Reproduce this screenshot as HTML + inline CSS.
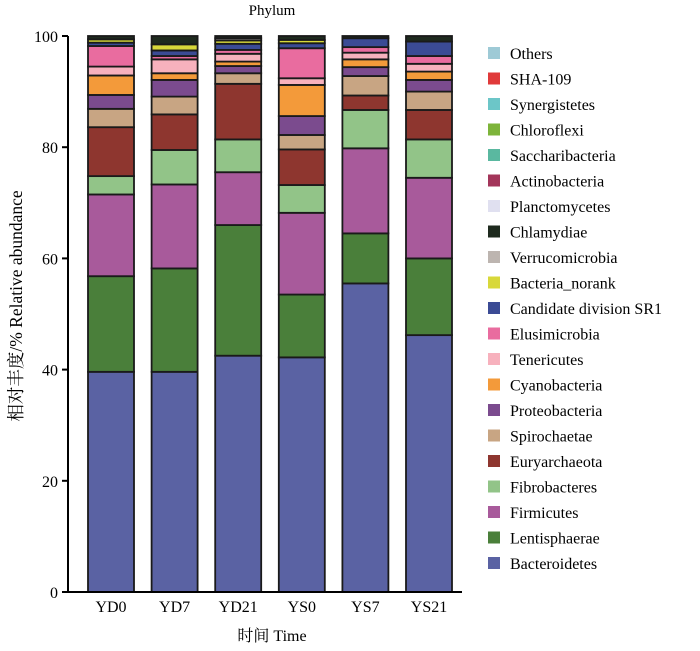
<!DOCTYPE html>
<html><head><meta charset="utf-8"><style>
body{margin:0;background:#fff;}
svg text{font-family:"Liberation Serif","Noto Serif CJK SC",serif;fill:#000;}
</style></head><body>
<svg id="chart" width="700" height="646" xmlns="http://www.w3.org/2000/svg">
<text x="272" y="15" font-size="15" text-anchor="middle">Phylum</text>
<g id="bars"></g>
<g id="axes"></g>
<g id="legend"></g>
<text x="272" y="641" font-size="16" text-anchor="middle">时间 Time</text>
<text transform="translate(22,306) rotate(-90)" font-size="17.5" text-anchor="middle">相对丰度/% Relative abundance</text>
</svg>
<script>
const categories=["YD0","YD7","YD21","YS0","YS7","YS21"];
const seriesNames=["Bacteroidetes","Lentisphaerae","Firmicutes","Fibrobacteres","Euryarchaeota","Spirochaetae","Proteobacteria","Cyanobacteria","Tenericutes","Elusimicrobia","Candidate division SR1","Bacteria_norank","Verrucomicrobia","Chlamydiae","Planctomycetes","Actinobacteria","Saccharibacteria","Chloroflexi","Synergistetes","SHA-109","Others"];
const seriesColors=["#5a62a3","#4a7f3a","#a85a9b","#92c488","#8e362f","#c8a583","#7b4b8e","#f39a3a","#f7b1bd","#e96c9f","#3b4b95","#d8d83a","#bdb5b0","#1e2a1e","#e0e0f0","#a3355a","#5ab8a0","#7db43a","#6cc6c8","#e03a3a","#9ecad6"];
const valsYD0=[39.6,17.2,14.7,3.3,8.8,3.3,2.5,3.5,1.6,3.7,0.6,0.6,0,0.6,0,0,0,0,0,0,0];
const valsYD7=[39.6,18.6,15.1,6.2,6.4,3.2,3.0,1.2,2.5,0.6,1.0,1.1,0,1.5,0,0,0,0,0,0,0];
const valsYD21=[42.5,23.5,9.5,5.9,10.0,1.9,1.3,0.8,1.4,0.7,1.1,0.6,0.4,0.4,0,0,0,0,0,0,0];
const valsYS0=[42.2,11.3,14.7,5.0,6.4,2.6,3.4,5.6,1.2,5.4,0.9,0.6,0,0.7,0,0,0,0,0,0,0];
const valsYS7=[55.5,9.0,15.3,6.9,2.6,3.5,1.6,1.4,1.2,1.0,1.6,0,0,0.4,0,0,0,0,0,0,0];
const valsYS21=[46.2,13.8,14.5,6.9,5.3,3.3,2.1,1.5,1.4,1.4,2.6,0,0,1.0,0,0,0,0,0,0,0];
const allVals=[valsYD0,valsYD7,valsYD21,valsYS0,valsYS7,valsYS21];
const yTicks=[0,20,40,60,80,100];
const NS="http://www.w3.org/2000/svg";
const x0=68,y0=592,yTop=36,barW=46,step=63.6,first=88;
function yScale(v){return y0-(v/100)*(y0-yTop);}
function xScale(i){return first+i*step;}
function mk(t,a,p){const e=document.createElementNS(NS,t);for(const k in a)e.setAttribute(k,a[k]);p.appendChild(e);return e;}
const bars=document.getElementById('bars');
categories.forEach((c,i)=>{
  let cum=0;const vals=allVals[i];
  vals.forEach((v,j)=>{
    if(v<=0)return;
    const r=mk('rect',{x:xScale(i),y:yScale(cum+v),width:barW,height:yScale(cum)-yScale(cum+v),fill:seriesColors[j],stroke:'#1a1a1a','stroke-width':1.8},bars);
    
    
    cum+=v;
  });
  const t=mk('text',{x:xScale(i)+barW/2,y:612,'font-size':16,'text-anchor':'middle'},bars);
  t.textContent=c;
  
  
});
const axes=document.getElementById('axes');
const ya=mk('line',{x1:x0,y1:yTop,x2:x0,y2:y0,stroke:'#000','stroke-width':2},axes);


const xa=mk('line',{x1:x0,y1:y0,x2:462,y2:y0,stroke:'#000','stroke-width':2},axes);


yTicks.forEach(v=>{
  const tk=mk('line',{x1:x0-6,y1:yScale(v),x2:x0,y2:yScale(v),stroke:'#000','stroke-width':2},axes);
  
  
  const t=mk('text',{x:x0-10,y:yScale(v)+6,'font-size':16,'text-anchor':'end'},axes);
  t.textContent=v;
  
  
});
const leg=document.getElementById('legend');
for(let k=0;k<seriesNames.length;k++){
  const j=seriesNames.length-1-k;
  const y=53+k*25.5;
  const g=mk('g',{},leg);
  
  
  mk('rect',{x:488,y:y-6,width:12,height:12,fill:seriesColors[j]},g);
  const t=mk('text',{x:510,y:y+6,'font-size':16},g);
  t.textContent=seriesNames[j];
}
</script>
</body></html>
